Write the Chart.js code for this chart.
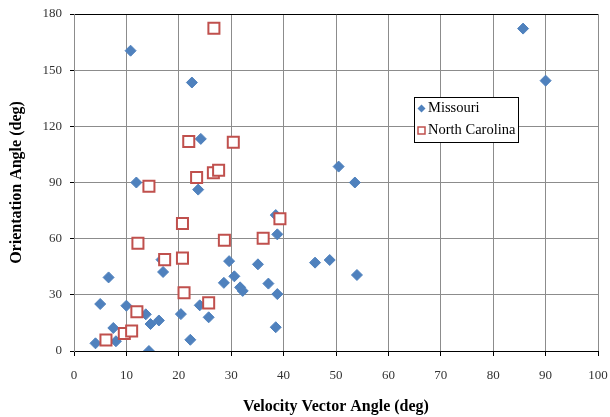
<!DOCTYPE html>
<html>
<head>
<meta charset="utf-8">
<script src="https://cdn.jsdelivr.net/npm/chart.js@4/dist/chart.umd.min.js"></script>
<style>
  html, body { margin: 0; padding: 0; background: #fff; }
  #wrap { width: 610px; height: 417px; }
</style>
</head>
<body>
<div id="wrap"><canvas id="chart" width="610" height="417"></canvas></div>
<script>
// Velocity vector angle (x) / orientation angle (y)
const missouriX = [4.1, 5.0, 6.6, 7.5, 8.0, 10.0, 10.8, 11.9, 13.7, 14.3, 14.6, 16.2, 16.7, 17.0, 20.4, 22.2, 22.5, 23.7, 24.0, 24.2, 25.7, 28.6, 29.6, 30.6, 31.7, 32.2, 35.1, 37.1, 38.5, 38.5, 38.8, 38.8, 46.0, 48.8, 50.5, 53.6, 54.0, 85.7, 90.0];
const missouriY = [4.1, 25.1, 39.3, 12.3, 5.2, 24.2, 160.4, 90.0, 19.6, 0, 14.4, 16.3, 48.8, 42.2, 19.7, 6.0, 143.4, 86.2, 24.4, 113.3, 18.0, 36.4, 48.0, 39.9, 34.0, 32.1, 46.3, 36.0, 72.6, 12.7, 62.3, 30.4, 47.2, 48.6, 98.5, 90.0, 40.6, 172.2, 144.4];

const carolinaX = [6.1, 9.6, 11.0, 12.0, 12.2, 14.3, 17.3, 20.7, 20.7, 21.0, 21.9, 23.4, 25.7, 26.6, 26.7, 27.6, 28.7, 30.4, 36.1, 39.3];
const carolinaY = [5.9, 9.4, 10.7, 21.0, 57.5, 88.0, 48.8, 49.6, 68.1, 31.1, 111.9, 92.7, 25.7, 95.2, 172.4, 96.6, 59.2, 111.5, 60.2, 70.6];

const seriesNames = ['Missouri', 'North Carolina'];
const xTicks = [0, 10, 20, 30, 40, 50, 60, 70, 80, 90, 100];
const yTicks = [0, 30, 60, 90, 120, 150, 180];

const blue = '#4F81BD';
const red = '#C0504D';
const gridGray = '#8c8c8c';
const serif = "'Liberation Serif', 'Times New Roman', serif";

function toPoints(xs, ys) {
  return xs.map((x, i) => ({ x: x, y: ys[i] }));
}

// legend drawn inside the plot, boxed, like the original
const boxLegend = {
  id: 'boxLegend',
  afterDraw(chart) {
    const ctx = chart.ctx;
    const bx = 414.5, by = 97.5, bw = 104, bh = 45;
    ctx.save();
    ctx.fillStyle = '#fff';
    ctx.fillRect(bx, by, bw, bh);
    ctx.strokeStyle = '#000';
    ctx.lineWidth = 1;
    ctx.strokeRect(bx, by, bw, bh);

    const mx = 421.5;
    const rows = [108.5, 130.5];
    chart.data.datasets.forEach((ds, i) => {
      const my = rows[i];
      ctx.beginPath();
      if (ds.pointStyle === 'rectRot') {
        ctx.moveTo(mx - 4, my);
        ctx.lineTo(mx, my - 4);
        ctx.lineTo(mx + 4, my);
        ctx.lineTo(mx, my + 4);
        ctx.closePath();
        ctx.fillStyle = ds.pointBackgroundColor;
        ctx.fill();
      } else {
        ctx.rect(mx - 3.5, my - 3.5, 7, 7);
        ctx.fillStyle = ds.pointBackgroundColor;
        ctx.fill();
        ctx.lineWidth = 1.5;
        ctx.strokeStyle = ds.pointBorderColor;
        ctx.stroke();
      }
      ctx.fillStyle = '#000';
      ctx.font = '14.5px ' + serif;
      ctx.textBaseline = 'middle';
      ctx.textAlign = 'left';
      ctx.fillText(ds.label, 428, my);
    });
    ctx.restore();
  }
};

const ctx = document.getElementById('chart').getContext('2d');
new Chart(ctx, {
  type: 'scatter',
  data: {
    datasets: [
      {
        label: seriesNames[0],
        data: toPoints(missouriX, missouriY),
        pointStyle: 'rectRot',
        pointRadius: 5.5,
        pointBorderWidth: 1,
        pointBackgroundColor: blue,
        pointBorderColor: blue,
        order: 1,
      },
      {
        label: seriesNames[1],
        data: toPoints(carolinaX, carolinaY),
        pointStyle: 'rect',
        pointRadius: 7.8,
        pointBorderWidth: 2,
        pointBackgroundColor: '#fff',
        pointBorderColor: red,
        order: 0,
      },
    ],
  },
  options: {
    responsive: false,
    animation: false,
    layout: { padding: { top: 14, right: 12, left: 0, bottom: 0 } },
    plugins: {
      legend: { display: false },
      tooltip: { enabled: false },
    },
    scales: {
      x: {
        type: 'linear',
        min: 0,
        max: 100,
        afterFit: (s) => {
          s.height = 66;
          s.paddingLeft = 0;
          s.paddingRight = 0;
        },
        afterBuildTicks: (s) => { s.ticks = xTicks.map((v) => ({ value: v })); },
        ticks: {
          padding: 12,
          color: '#333',
          font: { family: serif, size: 13 },
        },
        grid: {
          color: gridGray,
          tickColor: '#000',
          tickLength: 5,
          lineWidth: 1,
        },
        border: { color: '#000', width: 1 },
        title: {
          display: true,
          text: 'Velocity Vector Angle (deg)',
          color: '#000',
          font: { family: serif, size: 16, weight: 'bold' },
          padding: { top: 0, bottom: 1 },
        },
      },
      y: {
        type: 'linear',
        min: 0,
        max: 180,
        afterFit: (s) => {
          s.width = 74;
          s.paddingTop = 0;
          s.paddingBottom = 0;
        },
        afterBuildTicks: (s) => { s.ticks = yTicks.map((v) => ({ value: v })); },
        ticks: {
          padding: 8,
          color: '#333',
          font: { family: serif, size: 13 },
        },
        grid: {
          color: (c) => (c.tick && c.tick.value === 180 ? '#000' : gridGray),
          tickColor: '#000',
          tickLength: 4,
          lineWidth: 1,
        },
        border: { color: gridGray, width: 1 },
        title: {
          display: true,
          text: 'Orientation Angle (deg)',
          color: '#000',
          font: { family: serif, size: 16, weight: 'bold' },
          padding: { top: 7, bottom: 0 },
        },
      },
    },
  },
  plugins: [boxLegend],
});
</script>
</body>
</html>
